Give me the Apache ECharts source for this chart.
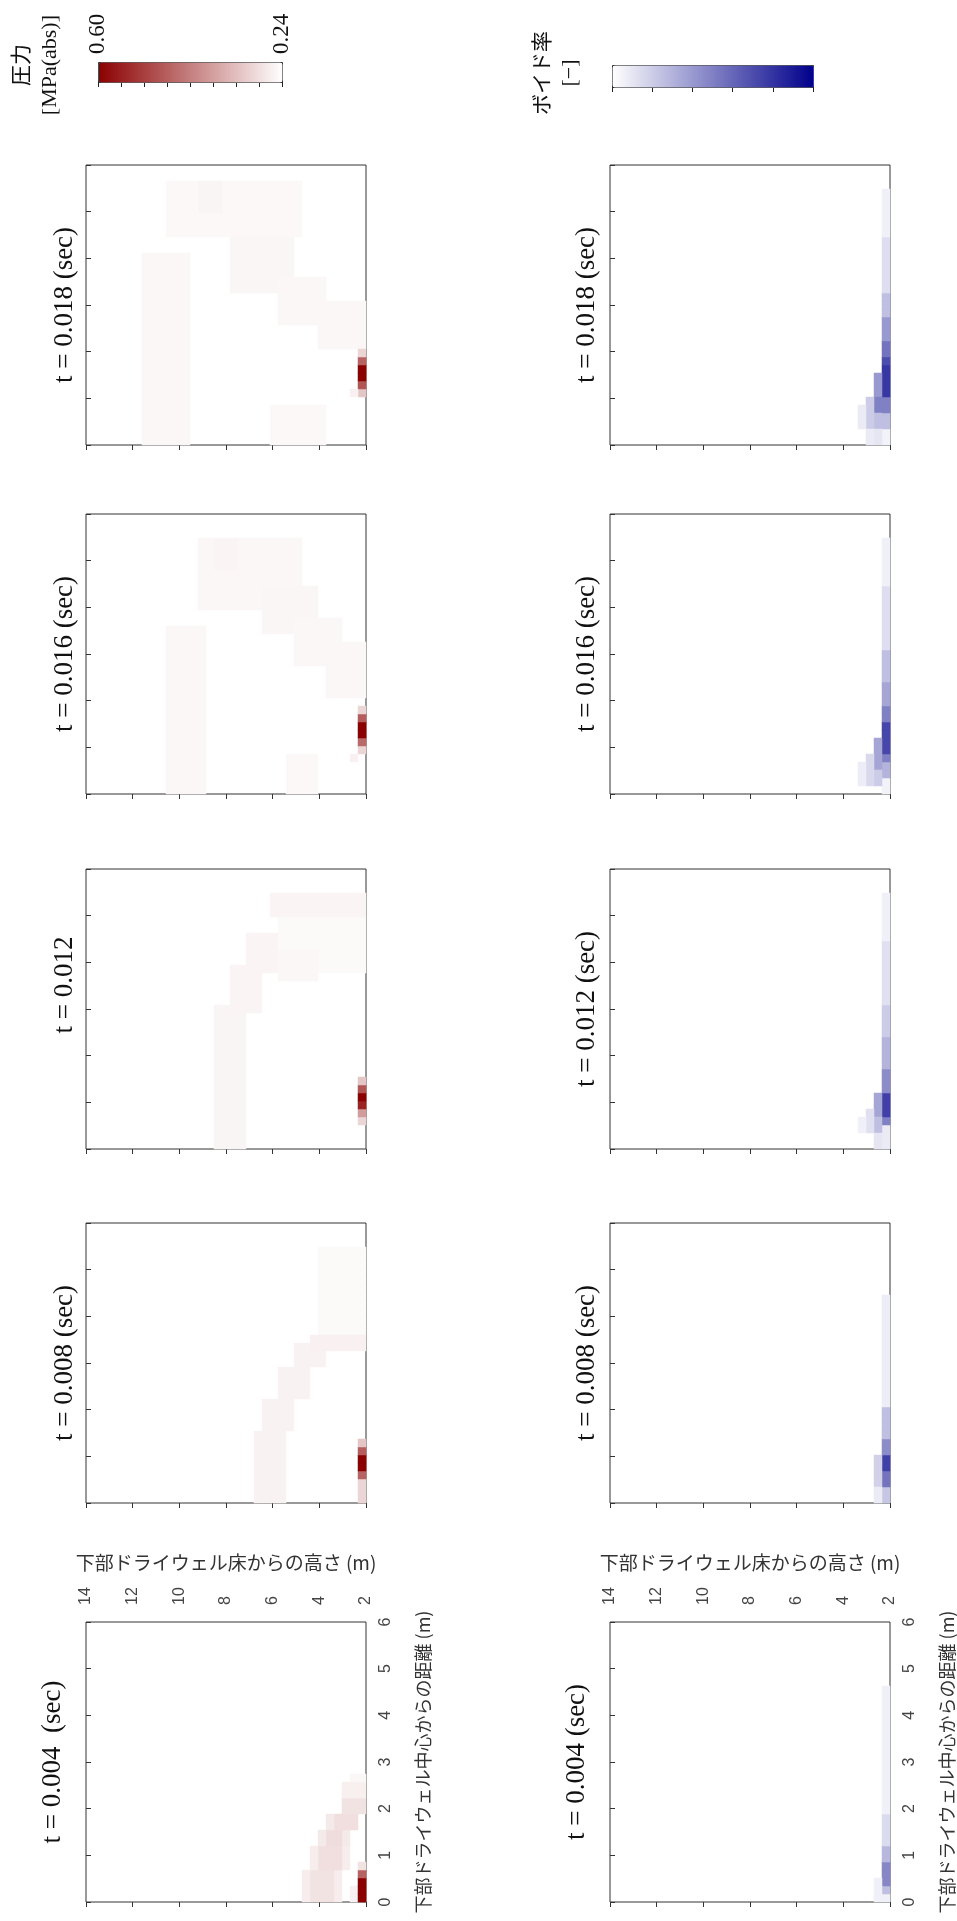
<!DOCTYPE html>
<html><head><meta charset="utf-8">
<script src="https://cdn.jsdelivr.net/npm/echarts@6/dist/echarts.min.js"></script>
<style>html,body{margin:0;padding:0;background:#fff}#c{width:957px;height:1921px}</style>
</head><body><div id="c"></div>
<script>
// ---------------- DATA ----------------
// Grid: 35 x 35 cells. c = height cell index (0 = floor side, height 2 m .. 14 m),
// r = distance cell index (0 = centre, 0 .. 6 m). Patches: [cFrom, cTo, rFrom, rTo, value]
const panelTimes = ['0.018', '0.016', '0.012', '0.008', '0.004'];
const pressureTitles = ['t = 0.018 (sec)', 't = 0.016 (sec)', 't = 0.012', 't = 0.008 (sec)', 't = 0.004  (sec)'];
const voidTitles = ['t = 0.018 (sec)', 't = 0.016 (sec)', 't = 0.012 (sec)', 't = 0.008 (sec)', 't = 0.004 (sec)'];
const heightAxisName = '下部ドライウェル床からの高さ (m)';
const distAxisName = '下部ドライウェル中心からの距離 (m)';
const heightRange = [2, 14];
const heightStep = 2;
const distRange = [0, 6];
const distStep = 1;
const pressureRange = [0.24, 0.60];
const pressureBarLabels = ['0.60', '0.24'];
const voidRange = [0, 1];
const pressureLegendTitle = ['圧力', '[MPa(abs)]'];
const voidLegendTitle = ['ボイド率', '[−]'];

const pressure_t004 = [
  [3,7,0,3,0.265],[4,6,0,3,0.28],[2,6,4,6,0.265],[3,5,4,6,0.285],[2,5,7,8,0.27],[3,4,7,8,0.29],
  [1,4,9,10,0.27],[1,3,9,10,0.285],[0,2,11,12,0.28],[0,2,13,14,0.262],[0,1,15,15,0.252],
  [1,1,0,1,0.26],
  [0,0,0,2,0.60],[0,0,3,3,0.46],[0,0,4,4,0.28]
];
const pressure_t008 = [
  [0,5,21,31,0.248],[10,13,0,8,0.258],[9,12,9,12,0.258],[7,10,13,16,0.258],[5,8,17,19,0.259],[0,6,19,20,0.26],
  [0,0,0,2,0.30],[0,0,3,3,0.46],[0,0,4,5,0.60],[0,0,6,6,0.47],[0,0,7,7,0.32]
];
const pressure_t012 = [
  [0,10,22,28,0.249],[15,18,0,17,0.254],[13,16,17,22,0.255],[11,14,22,26,0.256],[0,11,29,31,0.256],[6,10,21,24,0.252],
  [0,0,3,3,0.30],[0,0,4,4,0.38],[0,0,5,5,0.55],[0,0,6,6,0.60],[0,0,7,7,0.48],[0,0,8,8,0.32]
];
const pressure_t016 = [
  [20,24,0,20,0.251],[8,20,23,31,0.251],[16,18,28,31,0.255],[6,12,20,25,0.253],[3,8,16,21,0.252],[0,4,12,18,0.252],[6,9,0,4,0.25],
  [0,0,5,5,0.30],[0,0,6,6,0.45],[0,0,7,8,0.60],[0,0,9,9,0.47],[0,0,10,10,0.30],[1,1,4,4,0.26]
];
const pressure_t018 = [
  [22,27,0,23,0.251],[8,24,26,32,0.25],[18,20,29,32,0.254],[9,16,19,25,0.253],[5,10,15,20,0.252],[0,5,12,17,0.252],[5,11,0,4,0.25],
  [0,0,6,6,0.32],[0,0,7,7,0.48],[0,0,8,9,0.60],[0,0,10,10,0.46],[0,0,11,11,0.30],[1,1,6,6,0.26]
];

const void_t004 = [[0,0,0,26,0.06],[0,0,7,10,0.14],[0,0,5,6,0.28],[0,0,2,4,0.47],[0,0,1,1,0.25],[1,1,0,2,0.06]];
const void_t008 = [[0,0,0,25,0.07],[0,0,8,11,0.25],[0,0,6,7,0.45],[0,0,4,5,0.75],[0,0,2,3,0.55],[0,0,0,1,0.22],[1,1,2,5,0.18],[1,1,0,1,0.08]];
const void_t012 = [[0,0,0,31,0.06],[0,0,18,25,0.12],[0,0,14,17,0.2],[0,0,10,13,0.3],[0,0,7,9,0.45],[0,0,4,6,0.75],[0,0,3,3,0.5],[0,0,0,2,0.08],
  [1,1,4,6,0.35],[1,1,2,3,0.25],[1,1,0,1,0.1],[2,2,2,4,0.12],[3,3,2,3,0.06]];
const void_t016 = [[0,0,0,31,0.06],[0,0,18,25,0.13],[0,0,14,17,0.25],[0,0,11,13,0.35],[0,0,9,10,0.5],[0,0,5,8,0.72],[0,0,4,4,0.5],[0,0,2,3,0.3],[0,0,0,1,0.05],
  [1,1,3,6,0.35],[1,1,1,2,0.2],[2,2,1,4,0.15],[3,3,1,3,0.07]];
const void_t018 = [[0,0,0,31,0.06],[0,0,19,25,0.13],[0,0,16,18,0.25],[0,0,13,15,0.4],[0,0,11,12,0.55],[0,0,10,10,0.7],[0,0,6,9,0.78],[0,0,4,5,0.5],[0,0,2,3,0.25],[0,0,0,1,0.05],
  [1,1,6,8,0.4],[1,1,4,5,0.5],[1,1,2,3,0.25],[1,1,0,1,0.1],[2,2,2,5,0.2],[2,2,0,1,0.08],[3,3,2,4,0.08]];

const pressurePanels = [pressure_t018, pressure_t016, pressure_t012, pressure_t008, pressure_t004];
const voidPanels = [void_t018, void_t016, void_t012, void_t008, void_t004];

// ---------------- LAYOUT ----------------
const N = 35;
const heightCells = Array.from({length: N}, (_, i) => String(i));
const distCells = Array.from({length: N}, (_, i) => String(i));
const rowTops = [165, 514, 869, 1223, 1622];
const PW = 280, PH = 280;
const LEFT_P = 86, LEFT_V = 610;
const SERIF = "'Liberation Serif', 'DejaVu Serif', serif";
const SANS = "'Liberation Sans', 'DejaVu Sans', sans-serif";
const CJK = "'Noto Sans CJK JP', sans-serif";

function expand(patches) {
  const m = new Map();
  patches.forEach(p => {
    for (let c = p[0]; c <= p[1]; c++) for (let r = p[2]; r <= p[3]; r++) m.set(c + ',' + r, [c, r, p[4]]);
  });
  return Array.from(m.values());
}

const grids = [], xAxes = [], yAxes = [], series = [], graphics = [];
const pressureSeries = [], voidSeries = [];

function addPanel(left, top, patches, isBottom, list) {
  const g = grids.length;
  grids.push({left: left, top: top, width: PW, height: PH, show: true, borderColor: '#333', borderWidth: 1, backgroundColor: 'transparent'});
  const xc = xAxes.length;
  xAxes.push({type: 'category', gridIndex: g, data: heightCells, inverse: true, show: false, position: 'bottom'});
  xAxes.push({type: 'value', gridIndex: g, position: 'top', min: heightRange[0], max: heightRange[1], interval: heightStep, inverse: true,
    axisLine: {show: false}, splitLine: {show: false},
    axisTick: {show: true, inside: true, length: 5, lineStyle: {color: '#333', width: 1}},
    axisLabel: {show: isBottom, rotate: 90, margin: 17, fontSize: 16, fontFamily: SANS, color: '#444'},
    name: isBottom ? heightAxisName : '', nameLocation: 'middle', nameGap: 50,
    nameTextStyle: {fontSize: 19, fontFamily: CJK, color: '#333'}});
  const yc = yAxes.length;
  yAxes.push({type: 'category', gridIndex: g, data: distCells, show: false, position: 'left'});
  yAxes.push({type: 'value', gridIndex: g, position: 'left', min: distRange[0], max: distRange[1], interval: distStep,
    axisLine: {show: false}, splitLine: {show: false}, axisLabel: {show: false},
    axisTick: {show: true, inside: true, length: 5, lineStyle: {color: '#333', width: 1}}});
  yAxes.push({type: 'value', gridIndex: g, position: 'right', min: distRange[0], max: distRange[1], interval: distStep,
    axisLine: {show: false}, splitLine: {show: false}, axisTick: {show: false},
    axisLabel: {show: isBottom, rotate: 90, margin: 12, fontSize: 16, fontFamily: SANS, color: '#444'},
    name: isBottom ? distAxisName : '', nameLocation: 'middle', nameRotate: 90, nameGap: 48,
    nameTextStyle: {fontSize: 18, fontFamily: CJK, color: '#333'}});
  list.push(series.length);
  series.push({type: 'heatmap', xAxisIndex: xc, yAxisIndex: yc, data: expand(patches),
    itemStyle: {borderWidth: 0}, emphasis: {disabled: true}, silent: true, progressive: 0});
}

function rotText(x, y, text, size, family) {
  graphics.push({type: 'text', x: x, y: y, rotation: Math.PI / 2, silent: true,
    style: {text: text, fontSize: size, fontFamily: family, fill: '#111',
      align: 'center', verticalAlign: 'middle', textAlign: 'center', textVerticalAlign: 'middle'}});
}

for (let k = 0; k < 5; k++) {
  const isBottom = k === 4;
  addPanel(LEFT_P, rowTops[k], pressurePanels[k], isBottom, pressureSeries);
  addPanel(LEFT_V, rowTops[k], voidPanels[k], isBottom, voidSeries);
  const pyc = pressureTitles[k].indexOf('sec') < 0 ? rowTops[k] + 116 : rowTops[k] + PH / 2;
  rotText(isBottom ? 53 : 65, pyc, pressureTitles[k], 27, SERIF);
  rotText(isBottom ? 577 : 587, rowTops[k] + PH / 2, voidTitles[k], 27, SERIF);
}

// colour bar tick overlays
function addBarTicks(left, top, width, height, max, labels) {
  const g = grids.length;
  grids.push({left: left, top: top, width: width, height: height, show: false});
  const tick = {show: true, inside: true, length: 5, lineStyle: {color: '#222', width: 1}};
  xAxes.push({type: 'value', gridIndex: g, position: 'top', min: 0, max: max, interval: 1,
    axisLine: {show: false}, splitLine: {show: false}, axisTick: tick,
    axisLabel: {show: !!labels, rotate: 90, margin: 8, fontSize: 23, fontFamily: SERIF, color: '#111',
      formatter: v => (labels ? (v === 0 ? labels[0] : (v === max ? labels[1] : '')) : '')}});
  xAxes.push({type: 'value', gridIndex: g, position: 'bottom', min: 0, max: max, interval: 1,
    axisLine: {show: false}, splitLine: {show: false}, axisTick: tick, axisLabel: {show: false}});
  yAxes.push({type: 'value', gridIndex: g, show: false, min: 0, max: 1});
}
addBarTicks(98, 62, 184, 20, 8, pressureBarLabels);
addBarTicks(612, 65, 201, 22, 5, null);

// legend titles: rotated two-line blocks
function legendTitle(left, top, lines, gapX) {
  graphics.push({type: 'group', left: left, top: top, silent: true, children: [
    {type: 'text', x: 0, y: 0, rotation: Math.PI / 2,
      style: {text: lines[0], fontSize: 21, fontFamily: CJK, fill: '#111', align: 'center', verticalAlign: 'middle'}},
    {type: 'text', x: gapX, y: 0, rotation: Math.PI / 2,
      style: {text: lines[1], fontSize: 22, fontFamily: SERIF, fill: '#111', align: 'center', verticalAlign: 'middle'}}
  ]});
}
legendTitle(10, 15, pressureLegendTitle, 30);
legendTitle(531, 31, voidLegendTitle, 29);

const option = {
  backgroundColor: '#ffffff',
  animation: false,
  grid: grids,
  xAxis: xAxes,
  yAxis: yAxes,
  visualMap: [
    {type: 'continuous', seriesIndex: pressureSeries, min: pressureRange[0], max: pressureRange[1],
      inRange: {color: ['#ffffff', '#8b0000']}, orient: 'horizontal', inverse: true, calculable: false,
      left: 98, top: 62, itemWidth: 20, itemHeight: 184, padding: 0, borderColor: '#333', borderWidth: 1,
      hoverLink: false, showLabel: false},
    {type: 'continuous', seriesIndex: voidSeries, min: voidRange[0], max: voidRange[1],
      inRange: {color: ['#ffffff', '#00008b']}, orient: 'horizontal', inverse: false, calculable: false,
      left: 612, top: 65, itemWidth: 22, itemHeight: 201, padding: 0, borderColor: '#333', borderWidth: 1,
      hoverLink: false, showLabel: false}
  ],
  graphic: graphics,
  series: series
};
const chart = echarts.init(document.getElementById('c'), null, {width: 957, height: 1921});
chart.setOption(option);
</script></body></html>
